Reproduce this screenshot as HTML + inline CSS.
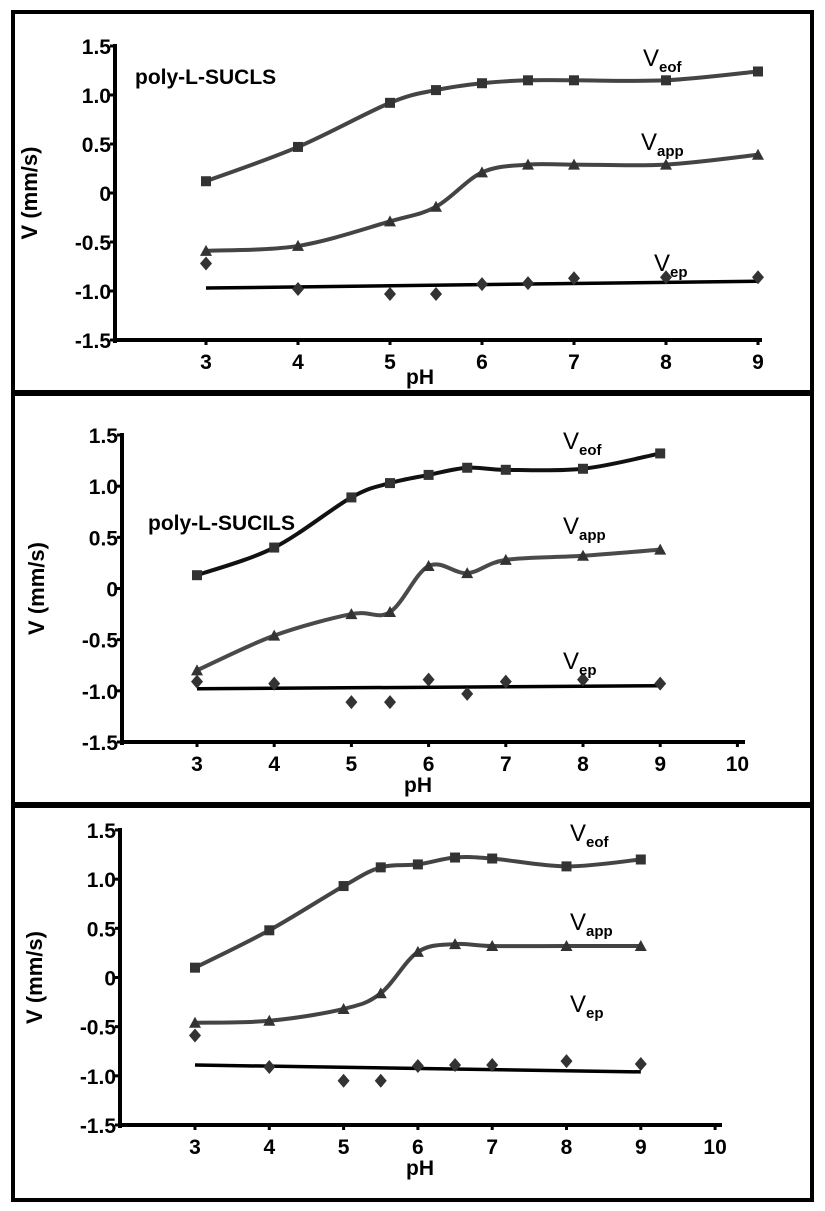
<!DOCTYPE html>
<html><head><meta charset="utf-8"><style>
body{margin:0;background:#fff}
svg{display:block;font-family:"Liberation Sans",Arial,sans-serif;font-weight:bold}
</style></head><body>
<svg id="fig" width="825" height="1211" viewBox="0 0 825 1211"></svg>
<script>
const phValues=[3,4,5,5.5,6,6.5,7,8,9];
const eof1=[0.12,0.47,0.92,1.05,1.12,1.15,1.15,1.15,1.24];
const app1=[-0.59,-0.54,-0.29,-0.14,0.21,0.29,0.29,0.29,0.39];
const ep1=[-0.72,-0.98,-1.03,-1.03,-0.93,-0.92,-0.87,-0.86,-0.86];
const epFit1=[-0.97,-0.90];
const eof2=[0.13,0.40,0.89,1.03,1.11,1.18,1.16,1.17,1.32];
const app2=[-0.80,-0.46,-0.25,-0.23,0.22,0.15,0.28,0.32,0.38];
const ep2=[-0.91,-0.93,-1.11,-1.11,-0.89,-1.03,-0.91,-0.89,-0.93];
const epFit2=[-0.98,-0.95];
const eof3=[0.10,0.48,0.93,1.12,1.15,1.22,1.21,1.13,1.20];
const app3=[-0.46,-0.44,-0.32,-0.16,0.26,0.34,0.32,0.32,0.32];
const ep3=[-0.59,-0.91,-1.05,-1.05,-0.90,-0.89,-0.89,-0.85,-0.88];
const epFit3=[-0.89,-0.96];
const yTicks=["1.5","1.0","0.5","0","-0.5","-1.0","-1.5"];
const yTickVals=[1.5,1.0,0.5,0,-0.5,-1.0,-1.5];

const NS="http://www.w3.org/2000/svg";
const svg=document.getElementById('fig');
function mk(tag,attrs,parent){const e=document.createElementNS(NS,tag);for(const k in attrs)e.setAttribute(k,attrs[k]);(parent||svg).appendChild(e);return e;}

const panels=[
 {box:[13,12,799,380],ax:115,yTop:46,yBot:340,x3:206,unit:92,xMax:9,axEnd:762,eof:eof1,app:app1,ep:ep1,fit:epFit1,title:"poly-L-SUCLS",tx:135,ty:84,eofCol:"#444",appCol:"#444",xt:[3,4,5,6,7,8,9],lab:[[643,66],[641,150],[654,271]],pHx:420,pHy:44},
 {box:[13,394,799,410],ax:122,yTop:435,yBot:742,x3:197,unit:77.2,xMax:10,axEnd:745,eof:eof2,app:app2,ep:ep2,fit:epFit2,title:"poly-L-SUCILS",tx:148,ty:530,eofCol:"#111",appCol:"#4a4a4a",xt:[3,4,5,6,7,8,9,10],lab:[[563,449],[563,534],[563,669]],pHx:418,pHy:50},
 {box:[13,806,799,394],ax:120,yTop:830,yBot:1125,x3:195,unit:74.3,xMax:10,axEnd:722,eof:eof3,app:app3,ep:ep3,fit:epFit3,title:null,eofCol:"#444",appCol:"#444",xt:[3,4,5,6,7,8,9,10],lab:[[570,841],[570,930],[570,1012]],pHx:420,pHy:50}
];

function smooth(pts){let d="M"+pts[0][0]+","+pts[0][1];for(let i=0;i<pts.length-1;i++){const p0=pts[Math.max(i-1,0)],p1=pts[i],p2=pts[i+1],p3=pts[Math.min(i+2,pts.length-1)];const c1=[p1[0]+(p2[0]-p0[0])/6,p1[1]+(p2[1]-p0[1])/6],c2=[p2[0]-(p3[0]-p1[0])/6,p2[1]-(p3[1]-p1[1])/6];d+=" C"+c1+" "+c2+" "+p2;}return d;}

panels.forEach((P,pi)=>{
 const g=mk('g',{});
 
 
 const xs=v=>P.x3+(v-3)*P.unit;
 const ys=v=>P.yBot-(v+1.5)/3*(P.yBot-P.yTop);
 const b=mk('rect',{x:P.box[0],y:P.box[1],width:P.box[2],height:P.box[3],fill:"none",stroke:"#000","stroke-width":4},g);
 
 const ya=mk('line',{x1:P.ax,y1:P.yTop-2,x2:P.ax,y2:P.yBot+3,stroke:"#000","stroke-width":4},g);
 
 const xa=mk('line',{x1:P.ax,y1:P.yBot,x2:P.axEnd,y2:P.yBot,stroke:"#000","stroke-width":4},g);
 
 yTickVals.forEach((v,i)=>{
  mk('line',{x1:P.ax-5,y1:ys(v),x2:P.ax,y2:ys(v),stroke:"#000","stroke-width":3},g);
  const t=mk('text',{x:P.ax-4,y:ys(v)+8,"text-anchor":"end","font-size":21},g);
  t.textContent=yTicks[i];
  
 });
 P.xt.forEach(v=>{
  mk('line',{x1:xs(v),y1:P.yBot,x2:xs(v),y2:P.yBot+5,stroke:"#000","stroke-width":3},g);
  const t=mk('text',{x:xs(v),y:P.yBot+29,"text-anchor":"middle","font-size":21},g);
  t.textContent=v;
  
 });
 const xl=mk('text',{x:P.pHx,y:P.yBot+P.pHy,"text-anchor":"middle","font-size":21},g);
 xl.textContent="pH";
 const cy=(P.yTop+P.yBot)/2;
 const yl=mk('text',{x:0,y:0,"text-anchor":"middle","font-size":22,transform:`translate(${P.ax-78},${cy}) rotate(-90)`},g);
 yl.textContent="V (mm/s)";
 if(P.title){const t=mk('text',{x:P.tx,y:P.ty,"font-size":21},g);t.textContent=P.title;}
 const pe=mk('path',{d:smooth(phValues.map((v,i)=>[xs(v),ys(P.eof[i])])),fill:"none",stroke:P.eofCol,"stroke-width":4},g);
 
 phValues.forEach((v,i)=>{const r=mk('rect',{x:xs(v)-5,y:ys(P.eof[i])-5,width:10,height:10,fill:"#333"},g);});
 const pa=mk('path',{d:smooth(phValues.map((v,i)=>[xs(v),ys(P.app[i])])),fill:"none",stroke:P.appCol,"stroke-width":4},g);
 
 phValues.forEach((v,i)=>{const x=xs(v),y=ys(P.app[i]);const r=mk('polygon',{points:`${x-6},${y+5} ${x+6},${y+5} ${x},${y-6}`,fill:"#333"},g);});
 const pf=mk('line',{x1:xs(3),y1:ys(P.fit[0]),x2:xs(9),y2:ys(P.fit[1]),stroke:"#000","stroke-width":3.5},g);
 
 phValues.forEach((v,i)=>{const x=xs(v),y=ys(P.ep[i]);const r=mk('polygon',{points:`${x},${y-7} ${x+6},${y} ${x},${y+7} ${x-6},${y}`,fill:"#333"},g);});
 [["eof"],["app"],["ep"]].forEach((s,k)=>{
  const t=mk('text',{x:P.lab[k][0],y:P.lab[k][1],"font-size":24,"font-weight":"normal"},g);
  t.textContent="V";
  const sub=mk('tspan',{dy:6,"font-size":15,"font-weight":"bold"},t);sub.textContent=s[0];
  
 });
});
</script>
</body></html>
